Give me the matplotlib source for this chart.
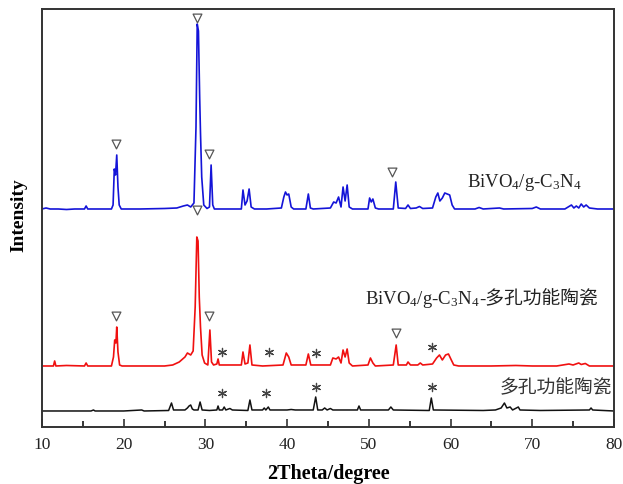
import matplotlib
matplotlib.use('Agg')
import matplotlib.pyplot as plt

# XRD traces (2theta in degrees, intensity in arbitrary units, stacked)
tt_blue = [10.0, 10.5, 11, 12, 13, 14, 15.2, 15.4, 15.6, 17, 18.5, 18.7, 18.85, 19.0, 19.15, 19.3, 19.45, 19.7,
           22, 25, 26.5, 27.3, 27.8, 28.2, 28.6, 28.85, 29.0, 29.15, 29.3, 29.4, 29.55, 29.8, 30.2, 30.5, 30.7,
           30.9, 31.1, 33, 34.4, 34.6, 34.85, 35.1, 35.35, 35.6, 36, 37.5, 39.3, 39.6, 39.8, 40.0, 40.2, 40.5,
           40.8, 42.3, 42.6, 42.85, 43.2, 45.3, 45.7, 46.0, 46.3, 46.6, 46.85, 47.1, 47.35, 47.6, 48, 49.9, 50.1,
           50.3, 50.5, 50.8, 51.2, 53.0, 53.3, 53.6, 54.5, 54.8, 55.1, 55.8, 56.2, 56.6, 57.8, 58.2, 58.45, 58.7,
           59.0, 59.3, 59.6, 59.9, 60.2, 60.5, 63, 63.5, 64, 66, 66.5, 70, 70.5, 71, 74, 74.8, 75.1, 75.4, 75.7,
           76.0, 76.3, 76.6, 77, 78, 80]
int_blue = [218, 219, 218, 218, 217.5, 218, 218, 221, 218, 218, 218, 222, 258, 252, 272, 240, 222, 218,
            218, 218.5, 219, 221, 222, 220, 224, 300, 403, 396, 330, 294, 250, 222, 218.5, 220, 262,
            222, 218, 218, 218, 237, 222, 226, 238, 220, 218, 218, 219, 230, 235, 232, 233, 220,
            218, 218, 233, 219, 218, 219, 225, 224, 230, 220, 240, 226, 242, 220, 218, 218, 229,
            225, 228, 219, 218, 218, 245, 219, 218.5, 222, 218.5, 219, 220.5, 218.5, 219, 230, 234, 226,
            229, 234, 233, 232, 222, 218, 218, 219.5, 218, 219, 218, 218.5, 220, 218, 218, 222, 219, 221, 219,
            223, 220, 222, 219, 218, 218]

tt_red = [10, 11.4, 11.55, 11.7, 13, 15.2, 15.4, 15.6, 18.5, 18.75, 18.9, 19.05, 19.15, 19.3, 19.5, 19.8,
          25, 26, 26.8, 27.5, 27.8, 28.2, 28.5, 28.75, 28.95, 29.1, 29.25, 29.4, 29.6, 29.9, 30.3, 30.55,
          30.75, 31.0, 31.4, 31.55, 31.7, 33, 34.4, 34.6, 34.85, 35.2, 35.45, 35.7, 37, 39.5, 39.9, 40.2,
          40.5, 42.3, 42.6, 42.9, 45.3, 45.6, 46.0, 46.3, 46.6, 46.85, 47.1, 47.35, 47.6, 48, 49.9, 50.2,
          50.5, 50.8, 53.0, 53.35, 53.6, 54.6, 54.8, 55.1, 56, 56.3, 56.6, 57.8, 58.3, 58.65, 59.0, 59.4,
          59.75, 60.1, 60.4, 61, 65, 68, 70, 73, 74.5, 75, 75.7, 76, 76.5, 77, 80]
int_red = [61, 61, 66, 61, 61.5, 61, 64, 61, 61, 70, 87, 84, 100, 75, 62, 61,
           61, 62, 65, 70, 74, 72, 76, 120, 190, 186, 130, 100, 72, 64, 62, 97,
           65, 62, 63, 68, 62, 62, 62, 75, 63, 64, 82, 62, 61, 62, 74, 70,
           62, 62, 73, 62, 62, 69, 68, 70, 64, 77, 70, 78, 64, 61, 62, 69,
           64, 61, 62, 82, 62, 62, 65, 62, 62, 64, 62, 63, 69, 72, 67, 72,
           73, 67, 62, 61, 61, 61.5, 61, 61, 63, 62, 64, 62.5, 63.5, 61, 61]

tt_black = [10, 16, 16.3, 16.5, 20, 22.2, 22.5, 25.5, 25.85, 26.1, 27.5, 27.8, 28.0, 28.2, 28.4, 28.6, 29.1,
            29.35, 29.6, 30.5, 31.4, 31.55, 31.7, 32.1, 32.3, 32.5, 33, 33.3, 35.2, 35.45, 35.7, 37, 37.2,
            37.4, 37.7, 37.9, 40, 40.5, 41, 43.2, 43.5, 43.75, 44.3, 44.6, 44.9, 45.3, 45.6, 48.6, 48.8, 49.0,
            52.4, 52.7, 53, 57.4, 57.65, 57.9, 64, 65.5, 66.2, 66.6, 66.9, 67.3, 67.6, 68.3, 68.5, 71, 77,
            77.2, 77.4, 80]
int_black = [16, 16, 17, 16, 16, 17, 16, 16.5, 24, 17, 17, 19, 21, 22, 18, 17, 17,
             25, 17, 16.5, 17, 21, 17, 17, 20, 17, 18.5, 17, 16.5, 27, 17, 17, 19,
             17, 20, 17, 17, 17.5, 17, 17, 30, 17, 17, 19, 17, 18.5, 17, 17, 21, 17,
             17, 20, 17, 16.5, 29, 17, 16.5, 17, 19, 24, 19, 20, 17, 20, 17, 16.5, 17,
             19, 17, 16]

# peak markers: open triangles (BiVO4) and asterisks (ceramic)
tri_x = [19.1, 29.0, 30.4, 52.9, 19.1, 29.0, 30.4, 53.3]
tri_y = [283, 409, 273, 255, 111, 217, 111, 94]
star_x = [32.0, 37.8, 43.5, 57.7, 32.0, 37.4, 43.5, 57.7]
star_y = [75, 75, 74, 80, 34, 34, 40, 40]

label_bv = 'BiVO$_4$/g-C$_3$N$_4$'
label_cer = '多孔功能陶瓷'

plt.rcParams['font.family'] = ['Liberation Serif', 'Noto Sans CJK SC']
plt.rcParams['mathtext.default'] = 'regular'

fig = plt.figure(figsize=(6.23, 4.84), dpi=100)
ax = fig.add_axes([0.0674, 0.1178, 0.918, 0.8636])

ax.plot(tt_blue, int_blue, color='#1414d8', linewidth=1.2)
ax.plot(tt_red, int_red, color='#f01010', linewidth=1.2)
ax.plot(tt_black, int_black, color='#111111', linewidth=1.1)

ax.scatter(tri_x, tri_y, marker='v', s=40, facecolor='white', edgecolor='#555555', linewidth=0.9, zorder=3)
ax.scatter(star_x, star_y, marker=(6, 2, 0), s=35, color='#444444', linewidth=0.9, zorder=3)

ax.text(62.0, 244, label_bv, fontsize=13.5, ha='left', va='center', color='#222222')
t_red = ax.text(49.5, 127, label_bv, fontsize=13.5, ha='left', va='center', color='#222222')
ax.annotate('-' + label_cer, xy=(1, 0), xycoords=t_red, xytext=(0, 1.5), textcoords='offset points',
            fontsize=13.5, ha='left', va='bottom', color='#222222')
ax.text(79.8, 39, label_cer, fontsize=13.5, ha='right', va='center', color='#333333')

ax.set_xlim(10, 80)
ax.set_ylim(0, 418)
ax.set_xticks([10, 20, 30, 40, 50, 60, 70, 80])
ax.set_xticks([15, 25, 35, 45, 55, 65, 75], minor=True)
ax.set_yticks([])
ax.tick_params(axis='x', which='major', direction='in', length=6, width=1.1, labelsize=12.5, pad=7, colors='#222222')
ax.tick_params(axis='x', which='minor', direction='in', length=4, width=1.1)

for s in ax.spines.values():
    s.set_color('#333333')
    s.set_linewidth(1.4)

ax.set_xlabel('2Theta/degree', fontsize=14.5, fontweight='bold', labelpad=8)
ax.set_ylabel('Intensity', fontsize=14, fontweight='bold')
ax.yaxis.set_label_coords(-0.026, 0.507)

fig.savefig('out.png', dpi=100)
